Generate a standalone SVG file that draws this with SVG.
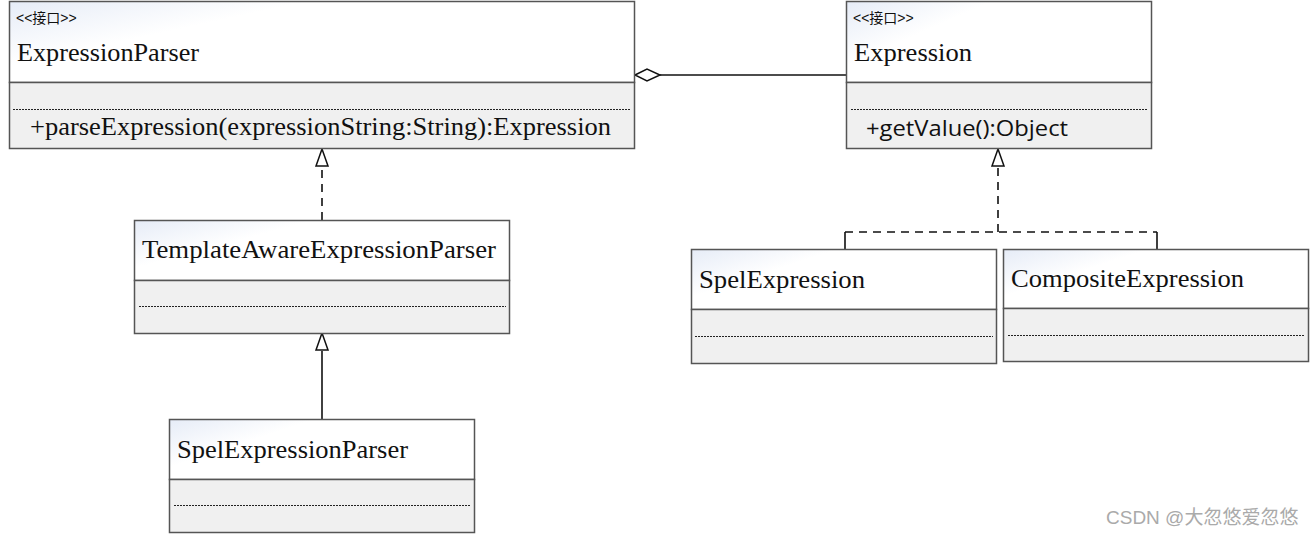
<svg xmlns="http://www.w3.org/2000/svg" width="1313" height="535" viewBox="0 0 1313 535">
<defs>
<linearGradient id="hg" x1="0" y1="0" x2="1" y2="0.6">
<stop offset="0" stop-color="#e6ecf7"/>
<stop offset="0.35" stop-color="#ffffff"/>
<stop offset="1" stop-color="#ffffff"/>
</linearGradient>
</defs>
<style>
.hdr{fill:url(#hg);stroke:#555;stroke-width:1.5}
.bdy{fill:#f0f0f0;stroke:#555;stroke-width:1.5}
.dot{stroke:#222;stroke-width:1;stroke-dasharray:2,1}
.nm{font-family:"Liberation Serif","Times New Roman",Times,serif;font-size:25px;fill:#111}
.st{font-family:"Liberation Sans","Noto Sans CJK SC",sans-serif;font-size:14px;fill:#111}
.mt{font-family:"Liberation Serif","Times New Roman",Times,serif;font-size:25px;fill:#111}
.ms{font-family:"Open Sans","Liberation Sans",sans-serif;font-size:22px;fill:#111}
.ln{stroke:#111;stroke-width:1.6;fill:none}
.dash{stroke:#111;stroke-width:1.6;fill:none;stroke-dasharray:8,6}
.wm{font-family:"Liberation Sans","Noto Sans CJK SC",sans-serif;font-size:19px;fill:#aaaaaa}
</style>
<rect width="1313" height="535" fill="#fff"/>
<g id="connectors">
<path class="ln" d="M660,75 L846,75"/>
<path d="M635,75 L647,69 L660,75 L647,81 Z" fill="#fff" stroke="#111" stroke-width="1.5"/>
<path class="dash" d="M322,220 L322,167"/>
<path d="M322,149 L328,166 L316,166 Z" fill="#fff" stroke="#111" stroke-width="1.5"/>
<path class="ln" d="M322,419 L322,351"/>
<path d="M322,333 L328,350 L316,350 Z" fill="#fff" stroke="#111" stroke-width="1.5"/>
<path class="dash" d="M998,232 L998,167"/>
<path d="M998,149 L1004,166 L992,166 Z" fill="#fff" stroke="#111" stroke-width="1.5"/>
<path class="dash" d="M845,232 L1157,232"/>
<path class="ln" d="M845,232 L845,249 M1157,232 L1157,249"/>
</g>
<g id="ExpressionParser">
<rect class="hdr" x="9.5" y="1.5" width="625" height="81"/>
<rect class="bdy" x="9.5" y="82.5" width="625" height="66"/>
<line class="dot" x1="13" y1="109.5" x2="630" y2="109.5"/>
<text class="st" x="16" y="23">&lt;&lt;接口&gt;&gt;</text>
<text class="nm" x="17" y="61" textLength="182" lengthAdjust="spacingAndGlyphs">ExpressionParser</text>
<text class="mt" x="30" y="135" textLength="581" lengthAdjust="spacingAndGlyphs">+parseExpression(expressionString:String):Expression</text>
</g>
<g id="Expression">
<rect class="hdr" x="846.5" y="1.5" width="305" height="81"/>
<rect class="bdy" x="846.5" y="82.5" width="305" height="66"/>
<line class="dot" x1="851" y1="109.5" x2="1148" y2="109.5"/>
<text class="st" x="853" y="23">&lt;&lt;接口&gt;&gt;</text>
<text class="nm" x="854" y="61" textLength="118" lengthAdjust="spacingAndGlyphs">Expression</text>
<text class="ms" x="866" y="136" textLength="202" lengthAdjust="spacingAndGlyphs">+getValue():Object</text>
</g>
<g id="TemplateAwareExpressionParser">
<rect class="hdr" x="134.5" y="220.5" width="375" height="60"/>
<rect class="bdy" x="134.5" y="280.5" width="375" height="53"/>
<line class="dot" x1="139" y1="306.5" x2="506" y2="306.5"/>
<text class="nm" x="142" y="258" textLength="354" lengthAdjust="spacingAndGlyphs">TemplateAwareExpressionParser</text>
</g>
<g id="SpelExpressionParser">
<rect class="hdr" x="169.5" y="419.5" width="305" height="60"/>
<rect class="bdy" x="169.5" y="479.5" width="305" height="53"/>
<line class="dot" x1="174" y1="505.5" x2="471" y2="505.5"/>
<text class="nm" x="177" y="458" textLength="231" lengthAdjust="spacingAndGlyphs">SpelExpressionParser</text>
</g>
<g id="SpelExpression">
<rect class="hdr" x="691.5" y="249.5" width="305" height="60"/>
<rect class="bdy" x="691.5" y="309.5" width="305" height="54"/>
<line class="dot" x1="695" y1="336.5" x2="993" y2="336.5"/>
<text class="nm" x="699" y="288" textLength="166" lengthAdjust="spacingAndGlyphs">SpelExpression</text>
</g>
<g id="CompositeExpression">
<rect class="hdr" x="1003.5" y="249.5" width="305" height="59"/>
<rect class="bdy" x="1003.5" y="308.5" width="305" height="53"/>
<line class="dot" x1="1008" y1="335.5" x2="1305" y2="335.5"/>
<text class="nm" x="1011" y="287" textLength="233" lengthAdjust="spacingAndGlyphs">CompositeExpression</text>
</g>
<text class="wm" x="1106" y="524">CSDN @大忽悠爱忽悠</text>
</svg>
